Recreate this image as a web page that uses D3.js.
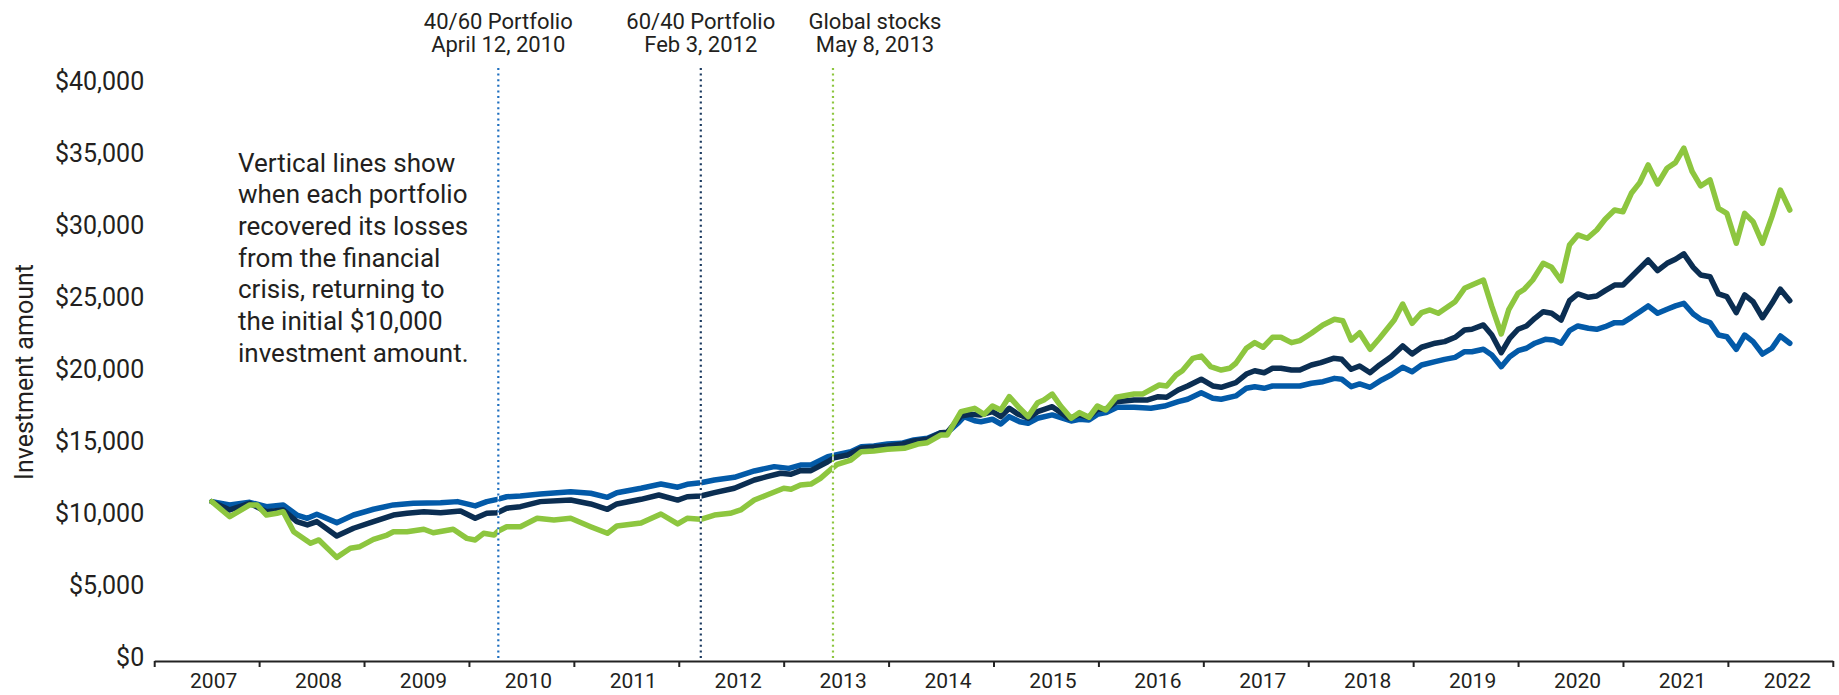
<!DOCTYPE html>
<html>
<head>
<meta charset="utf-8">
<script src="https://cdn.jsdelivr.net/npm/d3@7"></script>
<style>
  html, body { margin: 0; padding: 0; background: #fff; }
  svg text { font-family: Roboto, "Liberation Sans", sans-serif; font-weight: 400; fill: #231f20; }
</style>
</head>
<body>
<div id="graph"></div>
<script>
// values: [decimal year, $ value]
const globalStocks = [[2007.55,10790],[2007.72,9740],[2007.91,10560],[2007.98,10560],[2008.07,9860],[2008.17,9980],[2008.23,10090],[2008.33,8700],[2008.49,7900],[2008.57,8130],[2008.74,6920],[2008.87,7550],[2008.96,7660],[2009.09,8170],[2009.22,8470],[2009.28,8700],[2009.41,8700],[2009.57,8870],[2009.66,8630],[2009.85,8870],[2009.98,8240],[2010.06,8130],[2010.14,8590],[2010.24,8470],[2010.28,8750],[2010.36,9050],[2010.49,9050],[2010.65,9630],[2010.81,9510],[2010.97,9630],[2011.16,9050],[2011.32,8590],[2011.41,9100],[2011.64,9300],[2011.83,9930],[2011.99,9240],[2012.08,9630],[2012.21,9560],[2012.34,9860],[2012.49,9980],[2012.59,10210],[2012.72,10900],[2012.84,11250],[2013.00,11720],[2013.07,11650],[2013.16,11940],[2013.26,12010],[2013.35,12410],[2013.45,13040],[2013.51,13380],[2013.64,13680],[2013.74,14260],[2013.86,14310],[2013.99,14420],[2014.15,14490],[2014.28,14790],[2014.37,14880],[2014.50,15420],[2014.56,15420],[2014.69,17040],[2014.82,17270],[2014.91,16850],[2014.99,17430],[2015.07,17150],[2015.15,18080],[2015.25,17270],[2015.33,16690],[2015.42,17660],[2015.48,17850],[2015.56,18260],[2015.64,17430],[2015.74,16580],[2015.82,16970],[2015.91,16650],[2015.99,17430],[2016.07,17150],[2016.17,18040],[2016.34,18260],[2016.42,18260],[2016.58,18890],[2016.65,18820],[2016.74,19580],[2016.80,19880],[2016.90,20740],[2016.98,20900],[2017.07,20160],[2017.17,19930],[2017.25,20050],[2017.31,20400],[2017.41,21440],[2017.49,21830],[2017.57,21510],[2017.66,22200],[2017.74,22200],[2017.84,21830],[2017.92,21970],[2018.03,22480],[2018.14,23060],[2018.25,23450],[2018.33,23350],[2018.41,22010],[2018.49,22520],[2018.59,21370],[2018.68,22130],[2018.82,23400],[2018.90,24510],[2018.99,23170],[2019.08,23910],[2019.16,24100],[2019.24,23870],[2019.40,24670],[2019.49,25600],[2019.56,25830],[2019.67,26180],[2019.75,24330],[2019.84,22430],[2019.91,24100],[2020.00,25260],[2020.06,25540],[2020.14,26180],[2020.24,27340],[2020.32,27060],[2020.41,26130],[2020.49,28610],[2020.57,29310],[2020.66,29080],[2020.75,29650],[2020.83,30400],[2020.92,31040],[2021.00,30920],[2021.08,32200],[2021.16,32940],[2021.24,34170],[2021.33,32850],[2021.42,33940],[2021.50,34330],[2021.58,35330],[2021.66,33700],[2021.74,32710],[2021.83,33130],[2021.91,31160],[2021.99,30810],[2022.08,28730],[2022.16,30810],[2022.24,30230],[2022.33,28730],[2022.42,30580],[2022.50,32430],[2022.59,31040]];

const portfolio6040 = [[2007.55,10790],[2007.72,10210],[2007.91,10670],[2008.07,10090],[2008.23,10210],[2008.36,9400],[2008.46,9170],[2008.55,9400],[2008.74,8400],[2008.90,8940],[2009.09,9400],[2009.28,9860],[2009.41,9980],[2009.57,10090],[2009.73,10020],[2009.92,10140],[2010.06,9630],[2010.17,9980],[2010.27,10020],[2010.36,10330],[2010.49,10440],[2010.68,10790],[2010.97,10900],[2011.16,10630],[2011.32,10260],[2011.41,10630],[2011.64,10950],[2011.81,11250],[2011.99,10900],[2012.08,11130],[2012.21,11180],[2012.34,11410],[2012.53,11720],[2012.72,12290],[2012.84,12520],[2012.97,12760],[2013.07,12690],[2013.16,12940],[2013.26,12940],[2013.42,13560],[2013.48,13840],[2013.61,14030],[2013.74,14490],[2013.99,14650],[2014.12,14770],[2014.24,15000],[2014.37,15120],[2014.50,15580],[2014.56,15600],[2014.69,16740],[2014.78,16850],[2014.88,16810],[2014.99,17040],[2015.07,16690],[2015.15,17270],[2015.23,16880],[2015.33,16580],[2015.42,17040],[2015.56,17380],[2015.72,16580],[2015.82,16810],[2015.91,16650],[2015.99,17200],[2016.07,17200],[2016.17,17730],[2016.34,17850],[2016.47,17850],[2016.57,18080],[2016.65,18040],[2016.76,18540],[2016.85,18820],[2016.98,19290],[2017.09,18820],[2017.17,18730],[2017.31,19050],[2017.41,19650],[2017.49,19880],[2017.58,19740],[2017.66,20050],[2017.74,20050],[2017.84,19930],[2017.92,19930],[2018.03,20280],[2018.12,20440],[2018.24,20740],[2018.32,20670],[2018.41,19980],[2018.49,20210],[2018.59,19740],[2018.68,20280],[2018.79,20850],[2018.90,21600],[2018.99,21040],[2019.08,21510],[2019.21,21790],[2019.30,21900],[2019.40,22200],[2019.49,22710],[2019.56,22760],[2019.67,23060],[2019.75,22360],[2019.84,21130],[2019.92,22130],[2020.00,22760],[2020.08,22990],[2020.16,23520],[2020.24,23980],[2020.32,23870],[2020.41,23400],[2020.49,24740],[2020.57,25210],[2020.67,24980],[2020.75,25070],[2020.83,25440],[2020.92,25830],[2021.00,25830],[2021.08,26410],[2021.24,27570],[2021.33,26830],[2021.42,27340],[2021.50,27620],[2021.58,27990],[2021.67,27060],[2021.74,26530],[2021.83,26410],[2021.91,25210],[2021.99,25020],[2022.08,23910],[2022.16,25140],[2022.24,24670],[2022.33,23560],[2022.42,24560],[2022.50,25540],[2022.59,24740]];

const portfolio4060 = [[2007.55,10790],[2007.72,10560],[2007.91,10740],[2008.07,10440],[2008.23,10560],[2008.36,9860],[2008.46,9630],[2008.55,9910],[2008.74,9330],[2008.90,9860],[2009.09,10260],[2009.28,10560],[2009.47,10670],[2009.73,10720],[2009.89,10790],[2010.06,10490],[2010.17,10790],[2010.27,10950],[2010.36,11130],[2010.49,11180],[2010.68,11320],[2010.97,11480],[2011.16,11370],[2011.32,11090],[2011.41,11410],[2011.64,11720],[2011.83,12010],[2011.99,11790],[2012.08,11990],[2012.21,12100],[2012.34,12290],[2012.53,12480],[2012.72,12920],[2012.91,13220],[2013.05,13100],[2013.16,13330],[2013.26,13330],[2013.42,13910],[2013.54,14100],[2013.64,14260],[2013.74,14600],[2013.86,14650],[2013.99,14790],[2014.12,14840],[2014.24,15070],[2014.37,15190],[2014.50,15580],[2014.56,15580],[2014.66,16230],[2014.72,16690],[2014.82,16410],[2014.88,16340],[2014.99,16510],[2015.07,16180],[2015.15,16690],[2015.25,16340],[2015.33,16230],[2015.42,16580],[2015.56,16810],[2015.74,16390],[2015.82,16510],[2015.91,16460],[2015.99,16850],[2016.07,16970],[2016.18,17340],[2016.34,17340],[2016.50,17270],[2016.63,17430],[2016.76,17730],[2016.85,17900],[2016.98,18350],[2017.09,17970],[2017.17,17900],[2017.31,18130],[2017.41,18660],[2017.49,18770],[2017.58,18660],[2017.66,18820],[2017.81,18820],[2017.92,18820],[2018.03,19010],[2018.14,19120],[2018.25,19350],[2018.32,19290],[2018.41,18770],[2018.49,18960],[2018.59,18730],[2018.70,19240],[2018.79,19580],[2018.90,20120],[2018.99,19810],[2019.08,20280],[2019.21,20510],[2019.30,20670],[2019.40,20810],[2019.49,21200],[2019.56,21200],[2019.67,21370],[2019.75,20970],[2019.84,20160],[2019.92,20850],[2020.00,21270],[2020.08,21440],[2020.16,21790],[2020.26,22060],[2020.34,22010],[2020.41,21790],[2020.49,22660],[2020.57,22990],[2020.67,22830],[2020.75,22760],[2020.83,22940],[2020.92,23220],[2021.00,23220],[2021.08,23590],[2021.16,23980],[2021.24,24380],[2021.33,23870],[2021.42,24150],[2021.50,24380],[2021.58,24560],[2021.67,23820],[2021.74,23450],[2021.83,23220],[2021.91,22360],[2021.99,22240],[2022.08,21370],[2022.16,22360],[2022.24,21900],[2022.33,21040],[2022.42,21440],[2022.50,22290],[2022.59,21790]];

const years = ['2007','2008','2009','2010','2011','2012','2013','2014','2015','2016','2017','2018','2019','2020','2021','2022'];
const yTicks = [0, 5000, 10000, 15000, 20000, 25000, 30000, 35000, 40000];

// recovery markers (position)
const recoveryNames = ['40/60 Portfolio', '60/40 Portfolio', 'Global stocks'];
const recoveryDates = ['April 12, 2010', 'Feb 3, 2012', 'May 8, 2013'];
const recoveryAt = [2010.28, 2012.21, 2013.47];

const note = ['Vertical lines show', 'when each portfolio', 'recovered its losses',
  'from the financial', 'crisis, returning to', 'the initial $10,000', 'investment amount.'];

const w = 1839, h = 695;
const colors = { global: '#8dc63f', p6040: '#0b2e52', p4060: '#035aa8' };
const markerColors = ['#1f6fbf', '#1c3b60', '#8dc63f'];
const labelShift = [0, 0, 42];

const svg = d3.select('#graph').append('svg')
  .attr('width', w).attr('height', h);

const x = d3.scaleLinear().domain([2007, 2023]).range([154.2, 1832.8]);
const y = d3.scaleLinear().domain([0, 40000]).range([657, 81]);

// y axis: labels only
svg.append('g')
  .attr('transform', 'translate(154.2,0)')
  .call(d3.axisLeft(y).tickValues(yTicks).tickSize(0).tickPadding(10)
    .tickFormat(d => '$' + d3.format(',')(d)))
  .call(g => g.select('.domain').remove())
  .selectAll('text')
  .style('font-size', '25px')
  .attr('fill', '#231f20');

svg.append('text')
  .attr('transform', 'translate(24,372) rotate(-90)')
  .attr('text-anchor', 'middle')
  .attr('dominant-baseline', 'central')
  .style('font-size', '25px')
  .text('Investment amount');

// x axis
const xAxis = svg.append('g')
  .attr('transform', 'translate(0,661)')
  .call(d3.axisBottom(x).tickValues(d3.range(2007, 2024)).tickSize(6).tickSizeOuter(0).tickFormat(''));
xAxis.select('.domain').attr('stroke', '#222').attr('stroke-width', 2);
xAxis.selectAll('.tick line').attr('stroke', '#222').attr('stroke-width', 2);

svg.selectAll('.year')
  .data(years)
  .enter()
  .append('text')
  .attr('class', 'year')
  .attr('x', d => x(+d + 0.5) + 7)
  .attr('y', 688)
  .attr('text-anchor', 'middle')
  .style('font-size', '21px')
  .text(d => d);

// lines
const line = d3.line().x(d => x(d[0])).y(d => y(d[1]));
[[portfolio4060, colors.p4060], [portfolio6040, colors.p6040], [globalStocks, colors.global]]
  .forEach(([data, c]) => {
    svg.append('path')
      .datum(data)
      .attr('d', line)
      .attr('fill', 'none')
      .attr('stroke', c)
      .attr('stroke-width', 5.5)
      .attr('stroke-linejoin', 'round')
      .attr('stroke-linecap', 'round');
  });

// recovery markers
recoveryAt.forEach((t, i) => {
  svg.append('line')
    .attr('x1', x(t)).attr('x2', x(t))
    .attr('y1', 68).attr('y2', 659)
    .attr('stroke', '#fff').attr('stroke-width', 1.5);
  svg.append('line')
    .attr('x1', x(t)).attr('x2', x(t))
    .attr('y1', 68).attr('y2', 659)
    .attr('stroke', markerColors[i])
    .attr('stroke-width', 2.2)
    .attr('stroke-dasharray', '2 3.6');
  const lab = svg.append('text')
    .attr('text-anchor', 'middle')
    .style('font-size', '22px');
  lab.append('tspan').attr('x', x(t) + labelShift[i]).attr('y', 29).text(recoveryNames[i]);
  lab.append('tspan').attr('x', x(t) + labelShift[i]).attr('y', 52).text(recoveryDates[i]);
});

// note
svg.append('text')
  .style('font-size', '26px')
  .selectAll('tspan')
  .data(note)
  .enter()
  .append('tspan')
  .attr('x', 238)
  .attr('y', (d, i) => 171.7 + i * 31.67)
  .text(d => d);
</script>
</body>
</html>
